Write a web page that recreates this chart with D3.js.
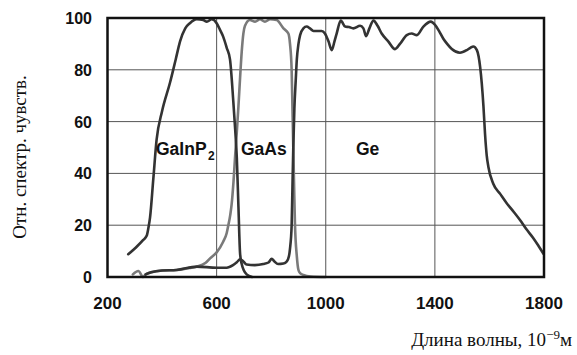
<html>
<head> <meta charset="utf-8"/></head>
<script src='https://d3js.org/d3.v7.min.js'></script>
<style>
	body {margin: 0; background: #fff;}
	.tick-lab {font-family: "Liberation Sans", Arial, sans-serif; font-weight: bold; fill: #111;}
	.title {font-family: "Liberation Serif", "Times New Roman", serif; font-size: 19px; fill: #111;}
	.grid {stroke: #555; stroke-width: 1;}
	.curve {fill: none; stroke-linejoin: round; stroke-linecap: round;}
</style>
<body>
<svg width=577 height=355></svg>
<script>

// wavelength (nm) and relative sensitivity (%)
var gainpX = [276, 307, 331, 344, 350, 356, 368, 380, 400, 429, 450, 466, 485, 502, 527, 551, 564, 582, 600, 612, 624, 637, 649, 661, 668, 674, 680, 686, 692, 700, 710, 730];
var gainpY = [8.8, 11.7, 14.3, 16, 19, 23, 38, 53, 64, 75, 84, 91, 96, 98, 99.5, 99.2, 98.6, 99.5, 98, 95.5, 92.8, 88.5, 84, 68, 57, 46, 27, 9, 5, 2.5, 1, 0];

var gaasX = [293, 313, 331, 340, 360, 400, 453, 500, 527, 560, 576, 600, 624, 637, 643, 650, 655, 662, 668, 674, 680, 686, 692, 698, 704, 722, 741, 759, 777, 796, 820, 845, 863, 869, 875, 878, 881, 884, 887, 894, 900, 906, 918, 945, 1000];
var gaasY = [1, 2.3, 0, 1, 1.8, 2.5, 2.7, 3.5, 4, 5.5, 7.2, 9.5, 13.6, 17, 20, 24, 28, 37, 47, 56, 66, 77, 87, 94, 97, 99.2, 98.6, 99.5, 98.6, 99.5, 99.2, 96, 94, 90, 80, 65, 50, 35, 21, 8, 2.7, 1.5, 0.8, 0.2, 0];

var geX = [340, 360, 400, 453, 527, 600, 637, 660, 674, 686, 698, 710, 740, 771, 790, 802, 812, 825, 845, 857, 865, 869, 875, 878, 881, 885, 890, 894, 900, 906, 918, 930, 942, 955, 970, 985, 997, 1010, 1022, 1032, 1040, 1055, 1071, 1085, 1101, 1126, 1138, 1148, 1160, 1175, 1190, 1205, 1229, 1254, 1272, 1297, 1315, 1334, 1358, 1385, 1401, 1415, 1431, 1445, 1462, 1492, 1517, 1530, 1541, 1554, 1566, 1578, 1584, 1590, 1596, 1614, 1640, 1664, 1690, 1712, 1735, 1761, 1780, 1798];
var geY = [1, 1.8, 2.5, 2.7, 4, 3.6, 3.6, 4.6, 5.7, 6.8, 6, 4.8, 4.6, 5, 5.6, 7, 6, 5, 5.2, 6, 8, 11, 20, 35, 50, 65, 76, 84, 90, 93.4, 96, 96.7, 96, 95, 95, 95, 94, 91, 87.6, 91, 94, 99, 96.7, 96.5, 96, 97, 96, 93, 96, 99, 97, 94, 91, 88, 90, 93.4, 94, 93.4, 96.7, 98.6, 97.3, 95, 92, 90, 88, 86.6, 87.6, 88.5, 89, 87.6, 81, 66, 55, 47, 42.6, 36, 32, 28.4, 25, 22, 18.5, 15, 12, 9];

var xTicks = [200, 600, 1000, 1400, 1800];
var yTicks = [0, 20, 40, 60, 80, 100];
var gridX = [600, 1000, 1400];
var gridY = [20, 40, 60, 80];

var svg = d3.select("svg");
var x = d3.scaleLinear().domain([200, 1800]).range([107.5, 544]);
var y = d3.scaleLinear().domain([0, 100]).range([277, 18]);

// grid
svg.append("g").selectAll("line").data(gridX).enter().append("line")
	.attr("class", "grid")
	.attr("x1", d => x(d)).attr("x2", d => x(d))
	.attr("y1", y(0)).attr("y2", y(100));
svg.append("g").selectAll("line").data(gridY).enter().append("line")
	.attr("class", "grid")
	.attr("y1", d => y(d)).attr("y2", d => y(d))
	.attr("x1", x(200)).attr("x2", x(1800));

var line = d3.line()
	.x(d => x(d[0]))
	.y(d => y(d[1]))
	.curve(d3.curveMonotoneX);

function pairs(xs, ys) { return xs.map((v, i) => [v, ys[i]]); }

svg.append("path").datum(pairs(gaasX, gaasY)).attr("class", "curve")
	.attr("stroke", "#7a7a7a").attr("stroke-width", 2.6).attr("d", line);
svg.append("path").datum(pairs(geX, geY)).attr("class", "curve")
	.attr("stroke", "#333").attr("stroke-width", 2.6).attr("d", line);
svg.append("path").datum(pairs(gainpX, gainpY)).attr("class", "curve")
	.attr("stroke", "#333").attr("stroke-width", 2.6).attr("d", line);

// frame
svg.append("rect")
	.attr("x", x(200)).attr("y", y(100))
	.attr("width", x(1800) - x(200)).attr("height", y(0) - y(100))
	.attr("fill", "none").attr("stroke", "#111").attr("stroke-width", 2.5);

// tick labels
svg.append("g").selectAll("text").data(yTicks).enter().append("text")
	.attr("class", "tick-lab").style("font-size", "16px")
	.attr("x", 92).attr("y", d => y(d) + 6)
	.attr("text-anchor", "end")
	.text(d => d);
svg.append("g").selectAll("text").data(xTicks).enter().append("text")
	.attr("class", "tick-lab").style("font-size", "17px")
	.attr("x", d => x(d)).attr("y", 309)
	.attr("text-anchor", "middle")
	.text(d => d);

// curve labels
var lab = svg.append("g").attr("class", "tick-lab").style("font-size", "17.5px");
lab.append("text").attr("x", 156).attr("y", 155).text("GaInP");
lab.append("text").attr("x", 208).attr("y", 160).style("font-size", "12px").text("2");
lab.append("text").attr("x", 241).attr("y", 155).text("GaAs");
lab.append("text").attr("x", 356).attr("y", 155).text("Ge");

// axis titles
svg.append("text").attr("class", "title")
	.attr("transform", "translate(26,157) rotate(-90)")
	.attr("text-anchor", "middle")
	.text("Отн. спектр. чувств.");

var xt = svg.append("text").attr("class", "title")
	.attr("x", 572).attr("y", 346).attr("text-anchor", "end");
xt.append("tspan").text("Длина волны, 10");
xt.append("tspan").attr("dy", -7).style("font-size", "13px").text("−9");
xt.append("tspan").attr("dy", 7).text("м");

</script>
</body>
</html>
